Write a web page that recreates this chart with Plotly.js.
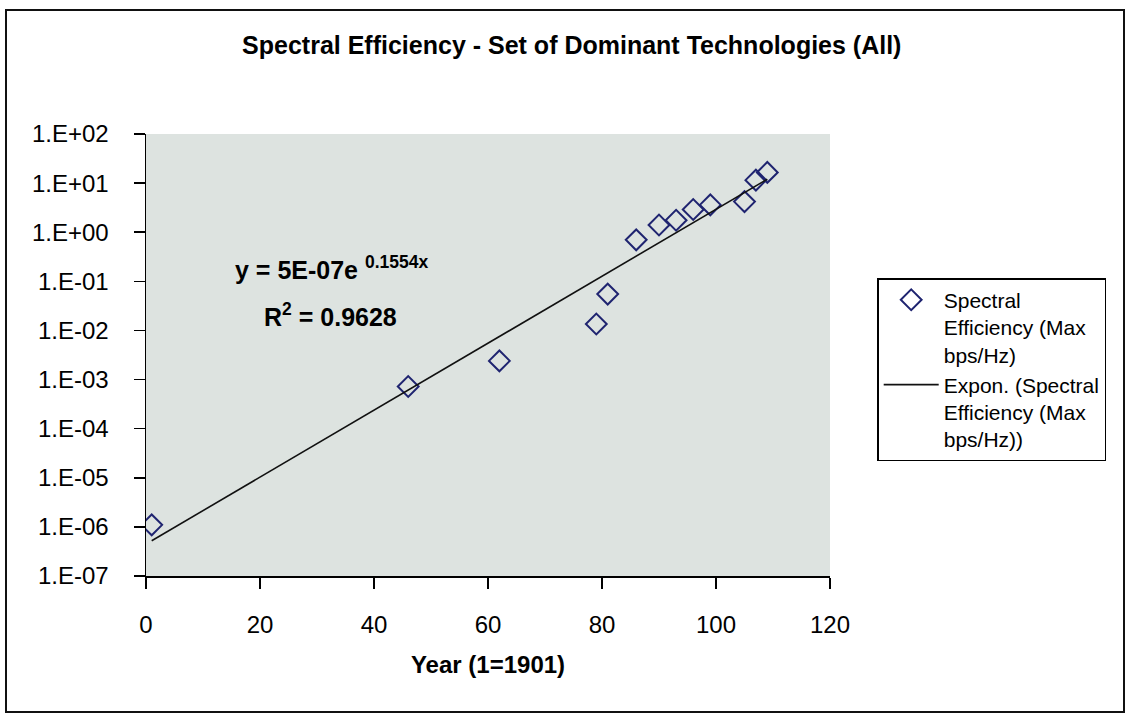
<!DOCTYPE html>
<html>
<head>
<meta charset="utf-8">
<script src="https://cdn.plot.ly/plotly-3.0.1.min.js"></script>
<style>
html,body{margin:0;padding:0;background:#fff;}
#chart{position:absolute;left:0;top:0;width:1130px;height:718px;}
#frame{position:absolute;left:5px;top:9px;width:1116px;height:700px;border:2px solid #111;pointer-events:none;}
</style>
</head>
<body>
<div id="chart"></div>
<div id="frame"></div>
<script>
// ---- data ----
const years = [1, 46, 62, 79, 81, 86, 90, 93, 96, 99, 105, 107, 109];
const efficiency = [1.1e-6, 7.2e-4, 2.4e-3, 0.0135, 0.055, 0.7, 1.4, 1.75, 2.9, 3.6, 4.2, 11.5, 16.5];
const yTickVals = [1e-7, 1e-6, 1e-5, 1e-4, 1e-3, 1e-2, 1e-1, 1e0, 1e1, 1e2];
const yTickText = ['1.E-07', '1.E-06', '1.E-05', '1.E-04', '1.E-03', '1.E-02', '1.E-01', '1.E+00', '1.E+01', '1.E+02'];
const xTickVals = [0, 20, 40, 60, 80, 100, 120];
const seriesName = 'Spectral<br>Efficiency (Max<br>bps/Hz)';
const trendName = 'Expon. (Spectral<br>Efficiency (Max<br>bps/Hz))';
const chartTitle = 'Spectral Efficiency - Set of Dominant Technologies (All)';
const xTitle = 'Year (1=1901)';
const fitLabel = 'y = 5E-07e <sup>0.1554x</sup>';
const r2Label = 'R<sup>2</sup> = 0.9628';

// ---- exponential trend fitted to the data (least squares on ln y) ----
const n = years.length;
const lny = efficiency.map(v => Math.log(v));
const mx = years.reduce((a, b) => a + b, 0) / n;
const my = lny.reduce((a, b) => a + b, 0) / n;
let sxy = 0, sxx = 0;
for (let i = 0; i < n; i++) { sxy += (years[i] - mx) * (lny[i] - my); sxx += (years[i] - mx) ** 2; }
const slope = sxy / sxx;
const intercept = my - slope * mx;
const trendY = years.map(x => Math.exp(intercept + slope * x));

const FONT = 'Liberation Sans, Arial, Helvetica, sans-serif';

const traces = [
  {
    x: years, y: efficiency, type: 'scatter', mode: 'markers', name: seriesName,
    marker: { symbol: 'diamond-open', size: 16, color: '#1f2470', line: { width: 2, color: '#1f2470' } }
  },
  {
    x: years, y: trendY, type: 'scatter', mode: 'lines', name: trendName,
    line: { color: '#111', width: 1.6 }
  }
];

const layout = {
  width: 1130, height: 718,
  paper_bgcolor: '#ffffff', plot_bgcolor: '#dde3e0',
  margin: { l: 146, r: 300, t: 134, b: 142, pad: 0 },
  font: { family: FONT, color: '#000' },
  title: {
    text: chartTitle, font: { family: FONT, size: 25, weight: 'bold', color: '#000' },
    xref: 'container', yref: 'container', x: 0.506, xanchor: 'center', y: 1 - 45 / 718, yanchor: 'middle'
  },
  xaxis: {
    range: [0, 120], tickvals: xTickVals, showgrid: false, zeroline: false,
    showline: true, linecolor: '#000', linewidth: 1.5,
    ticks: 'outside', ticklen: 11, tickwidth: 1.5, tickcolor: '#000',
    ticklabelstandoff: 16,
    tickfont: { family: FONT, size: 24, color: '#000' },
    title: { text: xTitle, font: { family: FONT, size: 24, weight: 'bold', color: '#000' }, standoff: 19 }
  },
  yaxis: {
    type: 'log', range: [-7, 2], tickvals: yTickVals, ticktext: yTickText,
    showgrid: false, zeroline: false,
    showline: true, linecolor: '#000', linewidth: 1.5,
    ticks: 'outside', ticklen: 11, tickwidth: 1.5, tickcolor: '#000',
    ticklabelstandoff: 20,
    tickfont: { family: FONT, size: 24, color: '#000' }
  },
  legend: {
    x: 1.069, y: 0.674, xanchor: 'left', yanchor: 'top',
    bgcolor: '#ffffff', bordercolor: '#000', borderwidth: 1.5,
    font: { family: FONT, size: 21, color: '#000' },
    itemwidth: 55, valign: 'top', tracegroupgap: 0
  },
  annotations: [
    { x: 32.6, y: -0.73, xref: 'x', yref: 'y', text: fitLabel, showarrow: false,
      font: { family: FONT, size: 25, weight: 'bold', color: '#000' } },
    { x: 32.3, y: -1.68, xref: 'x', yref: 'y', text: r2Label, showarrow: false,
      font: { family: FONT, size: 25, weight: 'bold', color: '#000' } }
  ],
  showlegend: true
};

Plotly.newPlot('chart', traces, layout, { staticPlot: true, displayModeBar: false });
</script>
</body>
</html>
